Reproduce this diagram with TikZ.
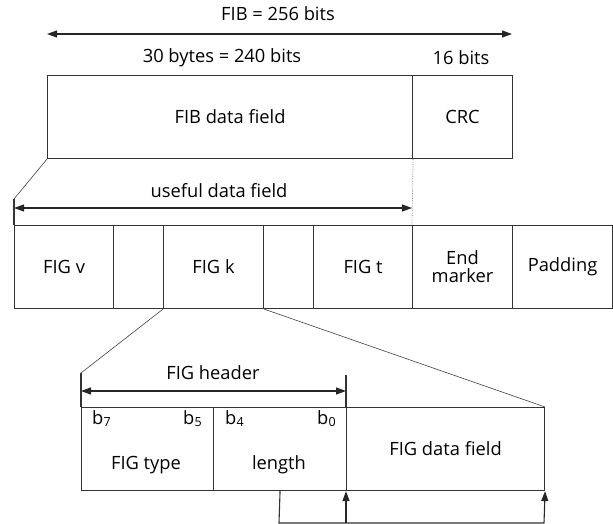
\documentclass[tikz,border=0pt]{standalone}
\usepackage{fontspec}
\setmainfont{Open Sans}
\usetikzlibrary{arrows.meta}
\begin{document}
\begin{tikzpicture}[x=1pt,y=-1pt,
  every node/.style={font=\fontsize{18.3}{20}\selectfont, text=black},
  cell/.style={draw=black!80, line width=1.1pt, anchor=north west, inner sep=0pt, align=center},
  thin/.style={draw=black!75, line width=0.6pt},
  frame/.style={draw=black!80, line width=1.1pt},
  dim/.style={draw=black!85, line width=1.1pt, {Triangle[length=10pt,width=7pt]}-{Triangle[length=10pt,width=7pt]}},
  uparr/.style={draw=black!85, line width=1.1pt, -{Triangle[length=10pt,width=7pt]}},
  lbl/.style={inner sep=0pt}
]
\useasboundingbox (0,0) rectangle (613,524);
% top FIB box
\node[cell, minimum width=365pt, minimum height=83pt] (fibdata) at (47,75) {FIB data field};
\node[cell, minimum width=100pt, minimum height=83pt] (crc) at (412,75) {CRC};
\coordinate (fibL) at (47,34);
\coordinate (fibR) at (512,34);
\draw[dim] (fibL) -- (fibR);
\node[lbl] (fiblbl) at (278,14) {FIB = 256 bits};
\node[lbl] (bytes) at (222,58) {30 bytes = 240 bits};
\node[lbl] (crcbits) at (461,58) {16 bits};
% FIG row
\node[cell, minimum width=99pt, minimum height=83pt] (figv) at (14,225) {FIG v};
\node[cell, minimum width=50pt, minimum height=83pt] (gapa) at (113,225) {};
\node[cell, minimum width=100pt, minimum height=83pt] (figk) at (163,225) {FIG k};
\node[cell, minimum width=50pt, minimum height=83pt] (gapb) at (263,225) {};
\node[cell, minimum width=99pt, minimum height=83pt] (figt) at (313,225) {FIG t};
\node[cell, minimum width=100pt, minimum height=83pt] (endm) at (412,225) {End\\[-2pt]marker};
\node[cell, minimum width=100pt, minimum height=83pt] (pad) at (512,225) {Padding};
% useful data field
\coordinate (ufL) at (14,199);
\coordinate (ufa) at (14,208);
\coordinate (ufb) at (412,208);
\draw[thin] (fibdata.south west) -- (ufL);
\draw[frame] (ufL) -- (figv.north west);
\draw[draw=black!50, line width=0.7pt, densely dotted] (fibdata.south east) -- (endm.north west);
\draw[dim] (ufa) -- (ufb);
\node[lbl] (uflbl) at (219,191) {useful data field};
% FIG detail
\node[cell, minimum width=132pt, minimum height=83pt] (figtype) at (81,407) {};
\node[cell, minimum width=133pt, minimum height=83pt] (length) at (213,407) {};
\node[cell, minimum width=198pt, minimum height=83pt] (figdata) at (346,407) {FIG data field};
\node[lbl] (tlbl) at (146,465) {FIG type};
\node[lbl] (llbl) at (279,465) {length};
\newcommand{\bsub}[1]{b\kern0.3pt\raisebox{-0.2ex}{\fontsize{12.5}{13}\selectfont #1}}
\node[lbl, anchor=west] (b7) at (92,419) {\bsub{7}};
\node[lbl, anchor=east] (b5) at (202,419) {\bsub{5}};
\node[lbl, anchor=west] (b4) at (225,419) {\bsub{4}};
\node[lbl, anchor=east] (b0) at (336,419) {\bsub{0}};
\coordinate (hL) at (81,373);
\coordinate (hR) at (346,375);
\coordinate (ha) at (81,391);
\coordinate (hb) at (346,391);
\draw[thin] (figk.south west) -- (hL);
\draw[thin] (figk.south east) -- (figdata.north east);
\draw[frame] (hL) -- (figtype.north west);
\draw[frame] (hR) -- (figdata.north west);
\draw[dim] (ha) -- (hb);
\node[lbl] (hlbl) at (213,373) {FIG header};
% length pointer
\coordinate (pa) at (279,523);
\coordinate (pb) at (346,523);
\coordinate (pc) at (544,523);
\draw[frame] (length.south) -- (pa) -- (pc);
\draw[uparr] (pb) -- (figdata.south west);
\draw[uparr] (pc) -- (figdata.south east);
\end{tikzpicture}
\end{document}
